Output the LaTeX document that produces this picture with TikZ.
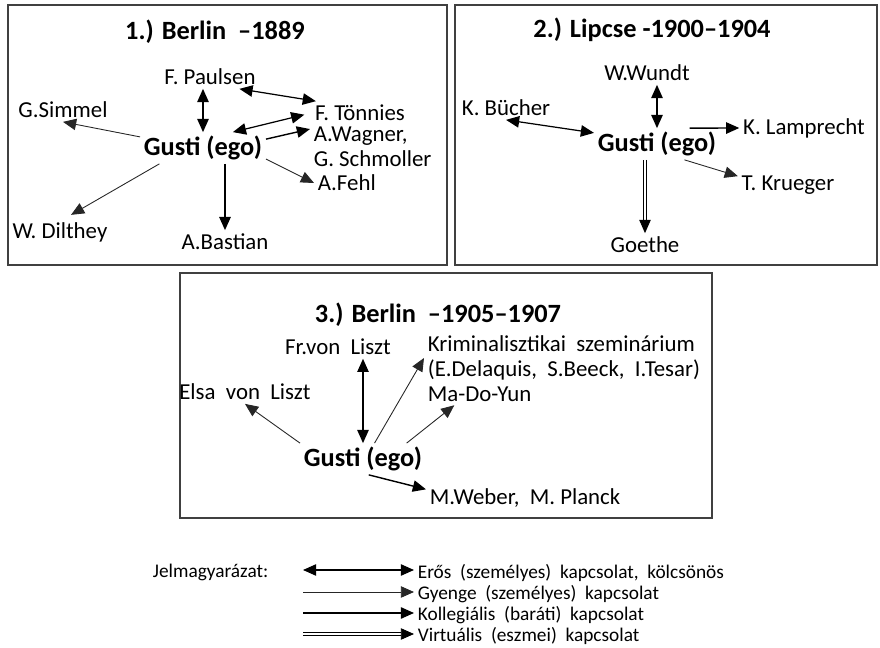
\documentclass[tikz,border=0pt]{standalone}
\usepackage{fontspec}
\setmainfont{Carlito}
\usetikzlibrary{arrows.meta}

\begin{document}
\begin{tikzpicture}[x=0.02cm, y=-0.02cm,
    person/.style={inner sep=2pt, font=\fontsize{13}{14}\selectfont},
    ego/.style={inner sep=2pt, font=\fontsize{15}{17}\selectfont\bfseries},
    heading/.style={font=\fontsize{15}{17}\selectfont\bfseries},
    legtext/.style={inner sep=2pt, anchor=west, font=\fontsize{11}{12}\selectfont},
    mutual/.style={{Triangle[length=7.5pt,width=6.5pt]}-{Triangle[length=7.5pt,width=6.5pt]}, line width=0.7pt},
    weaklink/.style={-{Triangle[length=7.5pt,width=6.5pt]}, line width=0.5pt, black!85},
    colleague/.style={-{Triangle[length=7.5pt,width=6.5pt]}, line width=0.8pt},
    virtual/.style={-{Triangle[length=7.5pt,width=6.5pt]}, double, double distance=1.3pt, line width=0.5pt},
    panel/.style={draw=black!75, line width=0.8pt}]

  \useasboundingbox (0,0) rectangle (880,648);

  % 1.) Berlin 1889
  \draw[panel] (8,5) rectangle (447,265);
  \node[heading] (title1) at (215,32) {1.) Berlin \ –1889};
  \node[ego] (gusti1) at (203,148) {Gusti (ego)};
  \node[person] (paulsen) at (210,77) {F.\ Paulsen};
  \node[person] (simmel) at (63,110) {G.Simmel};
  \node[person] (tonnies) at (360,113) {F.\ Tönnies};
  \node[person, align=left, anchor=west] (wagner) at (310,147) {A.Wagner,\\G.\ Schmoller};
  \node[person, anchor=west] (fehl) at (314,183) {A.Fehl};
  \node[person] (dilthey) at (60,232) {W.\ Dilthey};
  \node[person] (bastian) at (225,242) {A.Bastian};

  \draw[mutual] (gusti1.north) -- (gusti1.north |- paulsen.south);
  \draw[mutual] (paulsen.-22) -- (tonnies.165);
  \draw[mutual, shorten <=4pt] (tonnies.west) -- (gusti1.28);
  \draw[colleague] (gusti1.8) -- (wagner.164);
  \draw[weaklink] (gusti1.-10) -- (fehl.west);
  \draw[colleague] (bastian.north |- gusti1.south) -- (bastian.north);
  \draw[weaklink, shorten >=4pt] (gusti1.200) -- (dilthey.70);
  \draw[weaklink] (gusti1.170) -- (simmel.south);

  % 2.) Lipcse 1900-1904
  \draw[panel] (455,5) rectangle (877,265);
  \node[heading] (title2) at (652,30) {2.) Lipcse -1900–1904};
  \node[ego] (gusti2) at (657,144) {Gusti (ego)};
  \node[person] (wundt) at (647,73) {W.Wundt};
  \node[person] (bucher) at (506,108) {K.\ Bücher};
  \node[person] (lamprecht) at (804,128) {K.\ Lamprecht};
  \node[person] (krueger) at (788,185) {T.\ Krueger};
  \node[person] (goethe) at (645,245) {Goethe};

  \draw[mutual] (gusti2.north) -- (gusti2.north |- wundt.south);
  \draw[mutual] (bucher.south) -- (gusti2.170);
  \draw[colleague] (gusti2.26) -- (lamprecht.west);
  \draw[weaklink] (gusti2.-30) -- (krueger.170);
  \draw[virtual] (goethe.north |- gusti2.south) -- (goethe.north);

  % 3.) Berlin 1905-1907
  \draw[panel] (180,273) rectangle (712,518);
  \node[heading] (title3) at (438,315) {3.) Berlin \ –1905–1907};
  \node[ego] (gusti3) at (363,459) {Gusti (ego)};
  \node[person] (liszt) at (338,347) {Fr.von\ \ Liszt};
  \node[person] (elsa) at (245,392) {Elsa\ \ von\ \ Liszt};
  \node[person, align=left, anchor=west] (seminar) at (424,358) {Kriminalisztikai\ \ szeminárium\\(E.Delaquis,\ \ S.Beeck,\ \ I.Tesar)};
  \node[person, anchor=west] (mado) at (424,394) {Ma-Do-Yun};
  \node[person, anchor=west] (weber) at (426,498) {M.Weber,\ \ M.\ Planck};

  \draw[mutual] (gusti3.north) -- (gusti3.north |- liszt.south);
  \draw[weaklink] (gusti3.north west) -- (elsa.south);
  \draw[weaklink] (gusti3.54) -- (seminar.west);
  \draw[weaklink] (gusti3.20) -- (mado.204);
  \draw[colleague] (gusti3.-70) -- (weber.175);

  % legend
  \node[legtext] (legtitle) at (149,572) {Jelmagyarázat:};
  \node[legtext] (leg1) at (414,573) {Erős\ \ (személyes)\ \ kapcsolat,\ \ kölcsönös};
  \node[legtext] (leg2) at (414,594) {Gyenge\ \ (személyes)\ \ kapcsolat};
  \node[legtext] (leg3) at (414,615) {Kollegiális\ \ (baráti)\ \ kapcsolat};
  \node[legtext] (leg4) at (414,636) {Virtuális\ \ (eszmei)\ \ kapcsolat};
  \coordinate (lg1) at (303,570);
  \coordinate (lg2) at (303,592);
  \coordinate (lg3) at (303,613);
  \coordinate (lg4) at (303,634);
  \draw[mutual] (lg1) -- (lg1 -| leg1.west);
  \draw[weaklink] (lg2) -- (lg2 -| leg2.west);
  \draw[colleague] (lg3) -- (lg3 -| leg3.west);
  \draw[virtual] (lg4) -- (lg4 -| leg4.west);
\end{tikzpicture}
\end{document}
